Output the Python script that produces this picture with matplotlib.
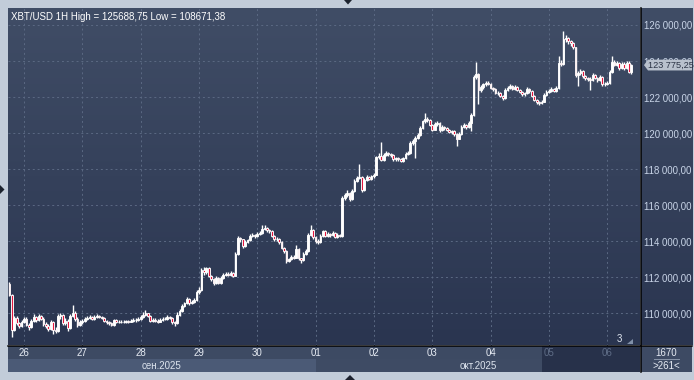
import matplotlib
matplotlib.use("Agg")
import matplotlib.pyplot as plt
import matplotlib.dates as mdates
from matplotlib.colors import LinearSegmentedColormap
from matplotlib.lines import Line2D
from matplotlib.patches import Polygon, Rectangle
from matplotlib.transforms import blended_transform_factory
import numpy as np
import pandas as pd

plt.rcParams["font.family"] = ["Liberation Sans", "DejaVu Sans"]

# --- data (prices in thousands of USD, hourly candles) ---
first_open = 111.65
closes = [
    111.00, 109.10, 109.75, 109.45, 109.30, 109.55,
    109.70, 109.35, 109.25, 109.60, 109.80, 109.65, 109.85, 109.70, 109.40, 109.30, 109.15, 109.55,
    109.10, 109.00, 109.85, 109.90, 109.45, 109.60, 109.20, 109.85, 110.05, 109.70, 109.35, 109.50,
    109.60, 109.70, 109.75, 109.80, 109.70, 109.80, 109.85, 109.80, 109.75, 109.60, 109.50, 109.45,
    109.35, 109.62, 109.50, 109.55, 109.55, 109.50, 109.58, 109.55, 109.60, 109.65, 109.62, 109.70,
    109.80, 109.90, 110.00, 109.85, 109.60, 109.65, 109.60, 109.55, 109.65, 109.70, 109.70, 109.80,
    109.75, 109.50, 109.45, 109.90, 110.15, 110.40, 110.55, 110.80, 110.55, 110.65, 110.75, 111.20,
    111.30, 112.40, 112.30, 112.50, 112.10, 111.90, 111.70, 111.95, 111.70, 111.95, 112.15, 112.20,
    112.15, 112.25, 112.10, 113.30, 114.20, 114.10, 113.75, 113.95, 114.05, 114.30, 114.35, 114.30,
    114.40, 114.45, 114.70, 114.75, 114.60, 114.55, 114.30, 114.10, 114.15, 113.95, 113.65, 113.45,
    112.90, 113.00, 113.15, 113.10, 113.60, 113.05, 112.95, 113.30, 113.45, 114.35, 114.65, 114.25,
    114.00, 113.95, 114.30, 114.55, 114.30, 114.40, 114.35, 114.45, 114.25, 114.35, 114.30, 116.40,
    116.55, 116.70, 116.35, 116.80, 117.35, 117.50, 117.55, 116.85, 117.40, 117.55, 117.45, 117.60,
    117.70, 118.65, 118.75, 118.50, 118.80, 118.90, 118.85, 118.80, 118.55, 118.60, 118.55, 118.45,
    118.60, 118.85, 118.90, 119.45, 119.55, 119.75, 119.90, 120.30, 120.65, 120.80, 120.75, 120.45,
    120.20, 120.50, 120.55, 120.15, 120.35, 120.30, 120.20, 120.05, 120.10, 119.95, 119.70, 119.95,
    120.35, 120.45, 120.35, 120.55, 121.00, 123.10, 123.30, 122.40, 122.55, 122.70, 122.80, 122.75,
    122.50, 122.45, 122.25, 122.25, 122.05, 121.95, 122.40, 122.50, 122.60, 122.45, 122.55, 122.40,
    122.30, 122.15, 122.20, 122.45, 122.35, 122.05, 121.85, 121.70, 121.65, 121.75, 122.10, 122.30,
    122.35, 122.45, 122.35, 122.50, 123.90, 123.85, 125.20, 125.30, 125.10, 125.00, 124.75, 123.20,
    123.35, 123.45, 123.15, 123.05, 123.00, 122.95, 123.25, 123.05, 122.95, 123.10, 122.70, 122.75,
    122.80, 123.40, 123.95, 123.80, 123.90, 123.60, 123.85, 123.60, 123.90, 123.40, 123.775,
]
highs = [
    111.72, 111.05, 109.85, 109.85, 109.55, 109.65,
    109.80, 109.78, 109.45, 109.70, 109.95, 109.88, 109.98, 109.92, 109.78, 109.50, 109.40, 109.65,
    109.60, 109.25, 109.95, 110.05, 109.98, 109.75, 109.68, 109.95, 110.45, 110.15, 109.80, 109.62,
    109.70, 109.80, 109.85, 109.92, 109.85, 109.90, 109.95, 109.92, 109.88, 109.80, 109.65, 109.58,
    109.50, 109.70, 109.68, 109.62, 109.65, 109.62, 109.66, 109.65, 109.70, 109.75, 109.72, 109.80,
    109.90, 110.10, 110.20, 110.05, 109.90, 109.75, 109.72, 109.68, 109.75, 109.80, 109.82, 109.90,
    109.88, 109.80, 109.58, 110.10, 110.25, 110.50, 110.65, 110.90, 110.85, 110.75, 110.85, 111.30,
    111.45, 112.50, 112.55, 112.60, 112.55, 112.15, 111.95, 112.05, 112.00, 112.05, 112.25, 112.30,
    112.28, 112.35, 112.30, 113.40, 114.30, 114.25, 114.15, 114.05, 114.15, 114.40, 114.45, 114.42,
    114.50, 114.55, 114.90, 114.88, 114.80, 114.68, 114.60, 114.35, 114.25, 114.20, 114.00, 113.70,
    113.50, 113.10, 113.25, 113.25, 113.80, 113.65, 113.10, 113.40, 113.55, 114.45, 114.90, 114.70,
    114.30, 114.10, 114.40, 114.65, 114.60, 114.50, 114.48, 114.55, 114.50, 114.45, 114.42, 116.50,
    116.70, 116.85, 116.75, 116.90, 117.45, 117.60, 118.30, 117.60, 117.50, 117.65, 117.62, 117.70,
    117.80, 118.75, 118.90, 119.50, 118.90, 119.00, 118.98, 118.92, 118.85, 118.70, 118.68, 118.62,
    118.70, 118.95, 119.00, 119.55, 119.70, 119.85, 120.00, 120.40, 120.75, 121.10, 120.90, 120.80,
    120.50, 120.60, 120.65, 120.60, 120.45, 120.42, 120.35, 120.25, 120.20, 120.15, 120.00, 120.05,
    120.45, 120.55, 120.50, 120.65, 121.10, 123.20, 123.95, 123.35, 122.68, 122.80, 122.90, 122.88,
    122.80, 122.58, 122.50, 122.35, 122.30, 122.10, 122.50, 122.60, 122.70, 122.65, 122.65, 122.60,
    122.45, 122.35, 122.30, 122.55, 122.50, 122.40, 122.10, 121.90, 121.78, 121.85, 122.20, 122.40,
    122.45, 122.55, 122.52, 122.60, 124.30, 124.05, 125.69, 125.45, 125.35, 125.15, 125.05, 124.80,
    123.45, 123.55, 123.50, 123.22, 123.12, 123.10, 123.35, 123.30, 123.12, 123.20, 123.15, 122.85,
    122.90, 123.50, 124.30, 124.05, 124.00, 123.95, 123.95, 123.95, 124.00, 123.98, 123.85,
]
lows = [
    110.95, 108.67, 109.00, 109.38, 109.20, 109.25,
    109.45, 109.28, 109.10, 109.20, 109.55, 109.55, 109.60, 109.62, 109.32, 109.20, 109.05, 109.10,
    108.85, 108.90, 108.95, 109.70, 109.38, 109.35, 109.00, 109.15, 109.80, 109.60, 109.25, 109.30,
    109.42, 109.55, 109.62, 109.68, 109.62, 109.65, 109.72, 109.72, 109.68, 109.52, 109.42, 109.38,
    109.28, 109.30, 109.45, 109.45, 109.48, 109.45, 109.45, 109.48, 109.50, 109.55, 109.55, 109.58,
    109.65, 109.75, 109.85, 109.78, 109.52, 109.55, 109.52, 109.48, 109.50, 109.58, 109.62, 109.65,
    109.68, 109.42, 109.30, 109.40, 109.85, 110.10, 110.35, 110.50, 110.45, 110.50, 110.60, 110.70,
    111.10, 111.25, 112.15, 112.20, 112.00, 111.80, 111.60, 111.65, 111.62, 111.65, 111.90, 112.05,
    112.05, 112.10, 112.00, 112.05, 113.25, 113.95, 113.65, 113.70, 113.90, 114.00, 114.22, 114.20,
    114.25, 114.35, 114.40, 114.60, 114.50, 114.45, 114.22, 114.00, 114.00, 113.85, 113.55, 113.35,
    112.80, 112.85, 112.95, 113.00, 113.05, 112.95, 112.80, 112.90, 113.25, 113.40, 114.30, 114.15,
    113.90, 113.85, 113.90, 114.25, 114.22, 114.25, 114.25, 114.30, 114.18, 114.20, 114.22, 114.25,
    116.30, 116.45, 116.25, 116.30, 116.75, 117.30, 117.45, 116.75, 116.80, 117.35, 117.38, 117.40,
    117.50, 117.65, 118.55, 118.45, 118.45, 118.75, 118.75, 118.70, 118.48, 118.45, 118.48, 118.38,
    118.40, 118.55, 118.78, 118.85, 119.35, 118.60, 119.70, 119.85, 120.25, 120.55, 120.62, 120.38,
    120.10, 120.15, 120.40, 120.05, 120.10, 120.20, 120.10, 119.98, 119.95, 119.85, 119.30, 119.65,
    119.90, 120.30, 120.25, 120.30, 120.10, 120.95, 123.00, 121.60, 122.30, 122.45, 122.62, 122.65,
    122.42, 122.35, 122.15, 122.12, 121.98, 121.85, 121.90, 122.35, 122.45, 122.38, 122.40, 122.32,
    122.22, 122.05, 122.08, 122.15, 122.25, 121.98, 121.78, 121.62, 121.55, 121.60, 121.70, 122.05,
    122.20, 122.30, 122.28, 122.30, 122.45, 123.70, 123.80, 125.05, 124.95, 124.85, 124.65, 123.10,
    122.60, 123.25, 123.05, 122.95, 122.90, 122.40, 122.90, 122.98, 122.85, 122.90, 122.62, 122.60,
    122.65, 122.75, 123.35, 123.70, 123.72, 123.52, 123.55, 123.52, 123.55, 123.35, 123.30,
]
first_candle = "2025-09-25 18:00"
day_labels = ["26", "27", "28", "29", "30", "01", "02", "03", "04", "05", "06"]
dimmed_days = ["05", "06"]
month_labels = ["сен.2025", "окт.2025"]
month_starts = ["2025-09-01", "2025-10-01"]
price_ticks = [110, 112, 114, 116, 118, 120, 122, 124, 126]
last_price = 123.77525
title = "XBT/USD 1H High = 125688,75 Low = 108671,38"
bar_count_text = "1670"
visible_text = ">261<"

# --- styling ---
W, H = 694, 380
FRAME = "#c2ccd9"
BG_TOP, BG_BOT = "#404d66", "#2a3550"
RED = "#e3173e"
GRID = "#5b6983"
X_LEFT, X_RIGHT = pd.Timestamp("2025-09-25 17:25"), pd.Timestamp("2025-10-06 13:30")
DARK_FROM = pd.Timestamp("2025-10-04 21:00")

fig = plt.figure(figsize=(W / 100, H / 100), dpi=100)
fig.patch.set_facecolor(FRAME)
bg_cmap = LinearSegmentedColormap.from_list("bg", [BG_TOP, BG_BOT])


def px_axes(x0, y0, x1, y1):
    return fig.add_axes([x0 / W, 1 - y1 / H, (x1 - x0) / W, (y1 - y0) / H])


def gradient(ax):
    ax.imshow(np.linspace(0, 1, 256).reshape(-1, 1), cmap=bg_cmap, aspect="auto",
              extent=[0, 1, 0, 1], transform=ax.transAxes, zorder=0)


def clean(ax):
    for s in ax.spines.values():
        s.set_visible(False)
    ax.set_xticks([])
    ax.set_yticks([])


def fmt_price(v):
    return f"{v * 1000:,.2f}".replace(",", " ").replace(".", ",")


# right price panel (behind the main axis labels)
ax_r = px_axes(640.5, 8, 692, 345.5)
gradient(ax_r)
clean(ax_r)

# main chart
ax = px_axes(8, 8, 640, 345.5)
gradient(ax)

times = pd.date_range(first_candle, periods=len(closes), freq="h")
x = mdates.date2num(times)
opens = np.r_[first_open, closes[:-1]]
closes_a = np.array(closes)
up = closes_a >= opens
bottoms = np.minimum(opens, closes_a)
heights = np.abs(closes_a - opens)

ax.vlines(x, lows, highs, color="white", lw=1.0, zorder=2)
ax.bar(x, heights, width=0.72 / 24, bottom=bottoms,
       color=np.where(up, "white", RED), edgecolor="white", linewidth=0.65, zorder=3)

ax.set_xlim(mdates.date2num(X_LEFT), mdates.date2num(X_RIGHT))
ax.set_ylim(108.22, 126.94)
day_dates = pd.date_range("2025-09-26", periods=len(day_labels), freq="D")
ax.set_xticks(mdates.date2num(day_dates))
ax.set_yticks(price_ticks)
ax.grid(True, color=GRID, lw=0.7, ls=(0, (2, 3)))
ax.set_axisbelow(True)
ax.tick_params(axis="x", length=0, labelbottom=False)
ax.yaxis.tick_right()
ax.tick_params(axis="y", length=0, pad=3.2, labelsize=6.9, labelcolor="#c9d5e8")
ax.yaxis.set_major_formatter(lambda v, p: fmt_price(v))
for s in ax.spines.values():
    s.set_visible(False)

ax.text(0.004, 0.988, title, transform=ax.transAxes, color="white", fontsize=7,
        va="top", ha="left")
ax.text(0.968, 0.0055, "3", transform=ax.transAxes, color="#e0e6f0", fontsize=7,
        va="bottom", ha="center")

# last price tag
tag_tf = blended_transform_factory(fig.transFigure, ax.transData)
hh = 0.3
tag = Polygon([(644 / W, last_price), (648 / W, last_price + hh), (692 / W, last_price + hh),
               (692 / W, last_price - hh), (648 / W, last_price - hh)],
              closed=True, transform=tag_tf, facecolor="#b9c1cd", edgecolor="none", zorder=2)
fig.add_artist(tag)
fig.text(648.5 / W, last_price, fmt_price(last_price), transform=tag_tf,
         color="#2b3345", fontsize=6.6, va="center", ha="left", zorder=3)

# bottom time band
ax_b = px_axes(8, 346, 640, 372)
ax_b.set_facecolor("#3d4a63")
clean(ax_b)
ax_b.set_xlim(ax.get_xlim())
ax_b.set_ylim(0, 1)
tb = ax_b.get_xaxis_transform()
oct_start = mdates.date2num(pd.Timestamp(month_starts[1]))
xl, xr = ax.get_xlim()
ax_b.add_patch(Rectangle((xl, 0), oct_start - xl, 0.5, transform=tb, color="#4b5a76", lw=0))
ax_b.add_patch(Rectangle((oct_start, 0), xr - oct_start, 0.5, transform=tb, color="#3e4b64", lw=0))
dk = mdates.date2num(DARK_FROM)
ax_b.add_patch(Rectangle((dk, 0), xr - dk, 1, transform=tb, color="#27314a", lw=0))
for d, lab in zip(mdates.date2num(day_dates), day_labels):
    col = "#5f6d87" if lab in dimmed_days else "#e6ebf3"
    ax_b.text(d, 0.74, lab, transform=tb, ha="center", va="center", fontsize=7, color=col)
bands = [(xl, oct_start), (oct_start, xr)]
for (a, b), lab in zip(bands, month_labels):
    ax_b.text((a + b) / 2, 0.24, lab, transform=tb, ha="center", va="center",
              fontsize=7, color="#dde4ee")

# bottom-right info box
ax_i = px_axes(641, 346, 692, 372)
ax_i.set_facecolor("#3d4a63")
clean(ax_i)
ax_i.set_xlim(0, 1)
ax_i.set_ylim(0, 1)
ax_i.text(0.5, 0.74, bar_count_text, ha="center", va="center", fontsize=7, color="#e6ebf3")
ax_i.text(0.5, 0.24, visible_text, ha="center", va="center", fontsize=7, color="#e6ebf3")
ax_i.plot([0.25, 0.75], [0.5, 0.5], color="#8a96aa", lw=0.7)

# separator lines
ft = fig.transFigure
fig.add_artist(Line2D([8 / W, 692 / W], [1 - 345.7 / H] * 2, color="black", lw=1.1, transform=ft))
fig.add_artist(Line2D([640.5 / W] * 2, [1 - 8 / H, 1 - 372 / H], color="black", lw=1.1, transform=ft))


# small frame arrows
def px_poly(pts, color):
    fig.add_artist(Polygon([(px / W, 1 - py / H) for px, py in pts], closed=True,
                           transform=ft, facecolor=color, edgecolor="none"))


px_poly([(344, 0), (352, 0), (348, 4.5)], "#1c222e")
px_poly([(0, 185), (0, 194), (4.5, 189.5)], "#1c222e")
px_poly([(345, 380), (355, 380), (350, 375)], "#1c222e")
px_poly([(627, 343.5), (633, 343.5), (633, 339)], "#8090a8")

fig.savefig("out.png", dpi=100, facecolor=fig.get_facecolor())
